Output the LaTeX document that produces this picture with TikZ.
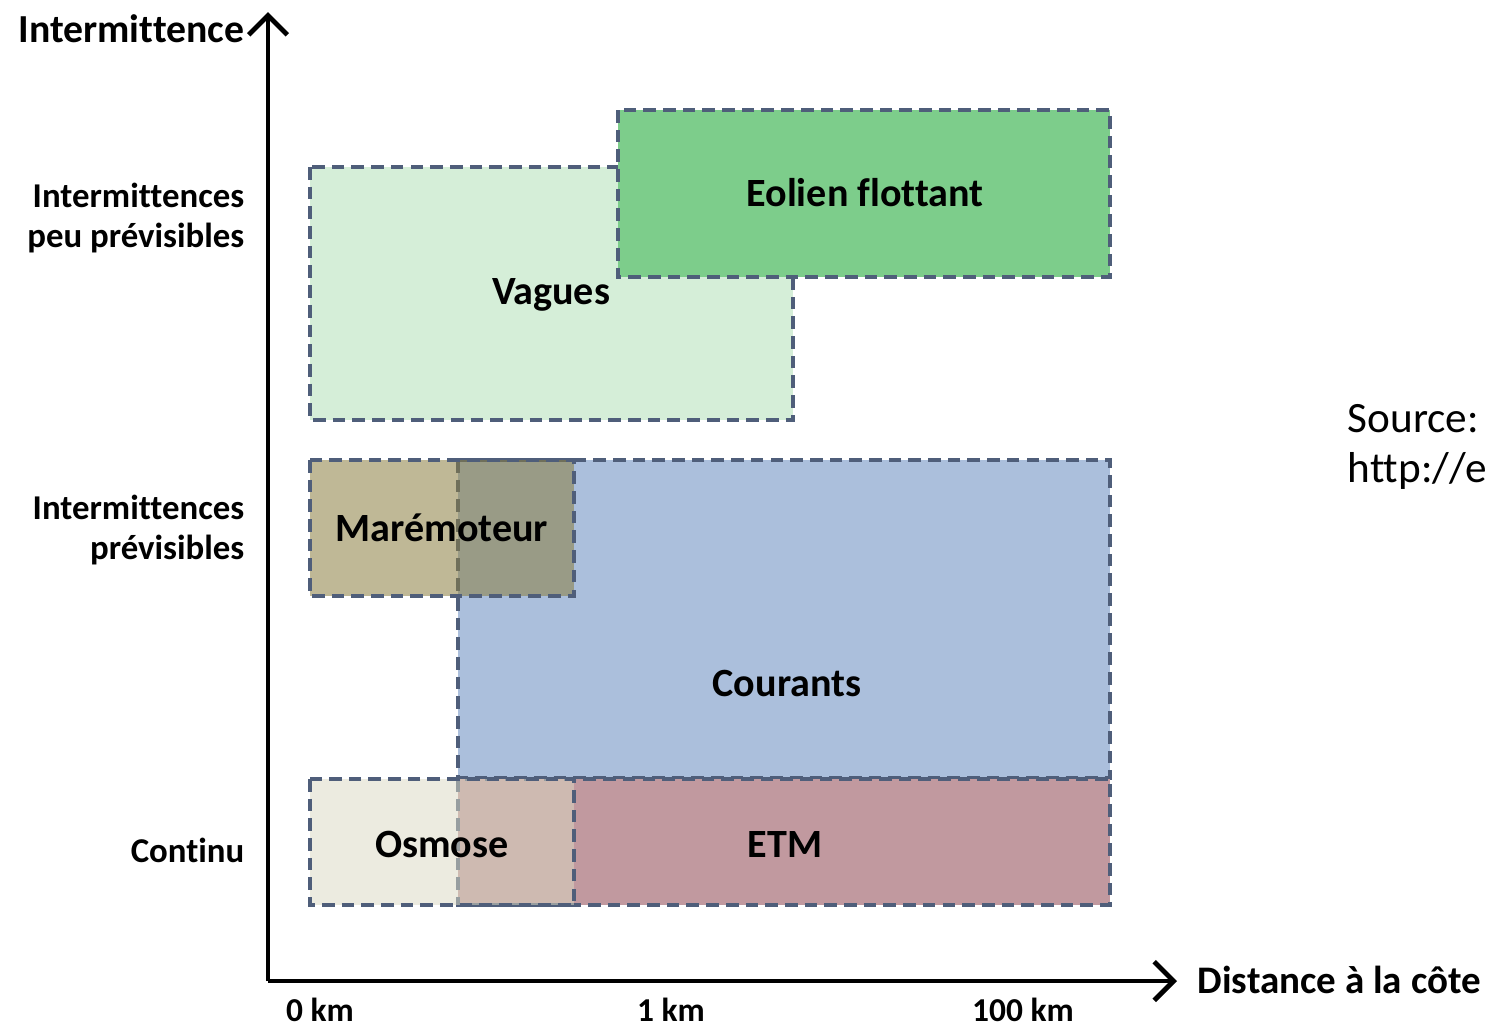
\documentclass[tikz,border=0pt]{standalone}
\usepackage{fontspec}
\setmainfont{Carlito}[Ligatures={NoCommon}]
\usetikzlibrary{arrows.meta, positioning}

\definecolor{zoneline}{HTML}{4F5E7A}
\definecolor{vaguesfill}{HTML}{D5EED8}
\definecolor{eolienfill}{HTML}{7DCD8B}
\definecolor{courantsfill}{HTML}{ABBFDC}
\definecolor{etmfill}{HTML}{C1999F}
\definecolor{maremfill}{HTML}{8B7E40}
\definecolor{osmosefill}{HTML}{DAD9C3}

\begin{document}
\begin{tikzpicture}[x=0.01cm, y=-0.01cm,
    zone/.style={draw=zoneline, dash pattern=on 3.6pt off 2pt, line width=0.9pt},
    axis/.style={line width=1.4pt, -{Straight Barb[length=5.5pt,width=11pt]}},
    boxlbl/.style={font=\bfseries\fontsize{11.4}{13}\selectfont},
    ticklbl/.style={font=\bfseries\fontsize{9.9}{11.4}\selectfont, align=right, anchor=east, inner xsep=0pt},
    kmlbl/.style={font=\bfseries\fontsize{9.5}{12}\selectfont}]
      \useasboundingbox (0,0) rectangle (1488,1026);

      % zones
      \draw[zone, fill=vaguesfill] (310,167) rectangle (793,420);
      \draw[zone, fill=eolienfill] (618,110) rectangle (1110,277);
      \draw[zone, fill=courantsfill] (458,460) rectangle (1110,778);
      \draw[zone, fill=maremfill, fill opacity=0.55] (310,460) rectangle (574,596);
      \draw[zone, fill=etmfill] (458,779) rectangle (1110,905);
      \draw[zone, fill=osmosefill, fill opacity=0.52] (310,779) rectangle (574,905);

      \node[boxlbl] (eolien) at (865,193) {Eolien flottant};
      \node[boxlbl] (vagues) at (551,295) {Vagues};
      \node[boxlbl] (marem) at (442,528) {Marémoteur};
      \node[boxlbl] (courants) at (787,683) {Courants};
      \node[boxlbl] (osmose) at (442,844) {Osmose};
      \node[boxlbl] (etm) at (785,844) {ETM};

      % axes
      \coordinate (o) at (268,981);
      \coordinate (ytop) at (268,12);
      \coordinate (xend) at (1177,981);
      \draw[axis] (o) -- (ytop);
      \draw[axis] (o) -- (xend);

      \node[ticklbl, font=\bfseries\fontsize{11.3}{13}\selectfont] (ylab) at (245,29) {Intermittence};
      \node[ticklbl] (peu) at (245,218) {Intermittences\\peu prévisibles};
      \node[ticklbl] (prev) at (245,530) {Intermittences\\prévisibles};
      \node[ticklbl] (continu) at (245,850) {Continu};
      \node[boxlbl, anchor=west, inner xsep=0pt, font=\bfseries\fontsize{11.1}{13}\selectfont] (xlab) at (1197,980) {Distance à la côte};

      \node[kmlbl] (km0) at (320,1010) {0 km};
      \node[kmlbl] (km1) at (671,1010) {1 km};
      \node[kmlbl] (km100) at (1023,1010) {100 km};

      \node[anchor=west, align=left, inner xsep=0pt, font=\fontsize{12.3}{14.2}\selectfont] (source) at (1347,447) {Source:\\http://e};
\end{tikzpicture}
\end{document}
